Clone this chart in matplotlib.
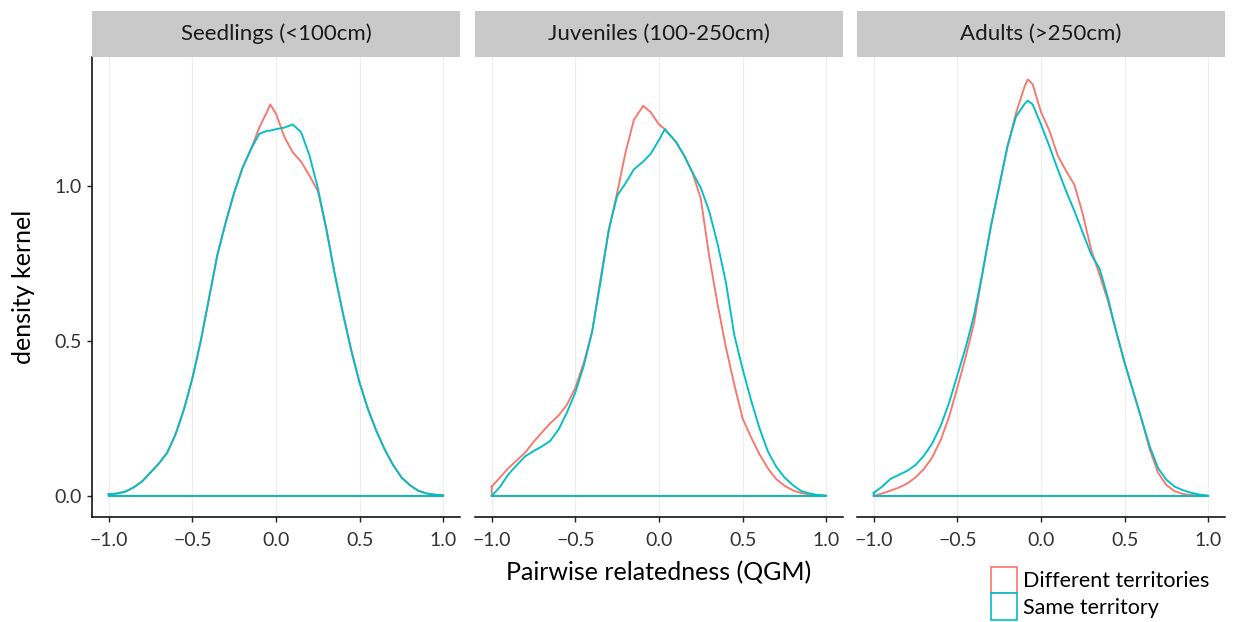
import matplotlib
matplotlib.use("Agg")
import matplotlib.pyplot as plt
from matplotlib.patches import Patch
import numpy as np

plt.rcParams["font.family"] = ["Lato", "DejaVu Sans"]

# kernel density of pairwise relatedness, one grid of x per size class
panels = ["Seedlings (<100cm)", "Juveniles (100-250cm)", "Adults (>250cm)"]
groups = ["Different territories", "Same territory"]
colors = ["#F8766D", "#00BFC4"]

x_seed = [-1.0, -0.95, -0.9, -0.85, -0.8, -0.75, -0.7, -0.65, -0.6, -0.55, -0.5, -0.45,
          -0.4, -0.35, -0.3, -0.25, -0.2, -0.15, -0.1, -0.05, -0.035, 0.0, 0.05, 0.1,
          0.15, 0.2, 0.25, 0.3, 0.35, 0.4, 0.45, 0.5, 0.55, 0.6, 0.65, 0.7, 0.75, 0.8,
          0.85, 0.9, 0.95, 1.0]
seed_diff = [0.005, 0.008, 0.014, 0.028, 0.047, 0.076, 0.105, 0.14, 0.20, 0.28, 0.38, 0.50,
             0.64, 0.78, 0.885, 0.98, 1.06, 1.12, 1.19, 1.245, 1.265, 1.235, 1.16, 1.11,
             1.08, 1.035, 0.985, 0.865, 0.72, 0.59, 0.47, 0.365, 0.28, 0.21, 0.15, 0.10,
             0.06, 0.035, 0.017, 0.008, 0.004, 0.002]
seed_same = [0.005, 0.008, 0.014, 0.028, 0.047, 0.076, 0.105, 0.14, 0.20, 0.28, 0.38, 0.50,
             0.64, 0.78, 0.885, 0.98, 1.06, 1.12, 1.17, 1.18, 1.18, 1.185, 1.19, 1.20,
             1.175, 1.10, 0.995, 0.865, 0.72, 0.59, 0.47, 0.365, 0.28, 0.21, 0.15, 0.10,
             0.06, 0.035, 0.017, 0.008, 0.004, 0.002]

x_juv = [-1.0, -0.95, -0.9, -0.85, -0.8, -0.75, -0.7, -0.65, -0.6, -0.55, -0.5, -0.45,
         -0.4, -0.35, -0.3, -0.25, -0.2, -0.15, -0.095, -0.05, 0.0, 0.035, 0.05, 0.1,
         0.15, 0.2, 0.25, 0.3, 0.35, 0.4, 0.45, 0.5, 0.55, 0.6, 0.65, 0.7, 0.75, 0.8,
         0.85, 0.9, 0.95, 1.0]
juv_diff = [0.03, 0.06, 0.09, 0.115, 0.14, 0.175, 0.205, 0.235, 0.26, 0.295, 0.35, 0.43,
            0.53, 0.70, 0.86, 0.98, 1.11, 1.215, 1.26, 1.24, 1.20, 1.185, 1.175, 1.145,
            1.10, 1.045, 0.96, 0.775, 0.62, 0.48, 0.36, 0.25, 0.19, 0.135, 0.09, 0.055,
            0.033, 0.018, 0.009, 0.005, 0.002, 0.001]
juv_same = [0.0, 0.03, 0.07, 0.10, 0.128, 0.145, 0.16, 0.178, 0.215, 0.27, 0.335, 0.42,
            0.53, 0.69, 0.86, 0.97, 1.01, 1.055, 1.08, 1.105, 1.15, 1.185, 1.175, 1.145,
            1.10, 1.045, 0.995, 0.92, 0.815, 0.69, 0.52, 0.41, 0.31, 0.22, 0.145, 0.095,
            0.06, 0.035, 0.016, 0.008, 0.003, 0.001]

x_adult = [-1.0, -0.95, -0.9, -0.85, -0.8, -0.75, -0.7, -0.65, -0.6, -0.55, -0.5, -0.45,
           -0.4, -0.35, -0.3, -0.25, -0.2, -0.15, -0.1, -0.079, -0.05, 0.0, 0.05, 0.1,
           0.15, 0.2, 0.25, 0.3, 0.35, 0.4, 0.45, 0.5, 0.55, 0.6, 0.65, 0.7, 0.75, 0.8,
           0.85, 0.9, 0.95, 1.0]
adult_diff = [0.0, 0.008, 0.017, 0.027, 0.04, 0.06, 0.087, 0.125, 0.18, 0.255, 0.35, 0.45,
              0.56, 0.72, 0.87, 1.0, 1.13, 1.235, 1.32, 1.346, 1.33, 1.24, 1.18, 1.10,
              1.05, 1.005, 0.91, 0.795, 0.715, 0.63, 0.53, 0.43, 0.34, 0.25, 0.15, 0.075,
              0.035, 0.015, 0.006, 0.003, 0.001, 0.0]
adult_same = [0.01, 0.03, 0.055, 0.068, 0.081, 0.10, 0.13, 0.17, 0.226, 0.30, 0.39, 0.48,
              0.585, 0.72, 0.87, 1.0, 1.13, 1.225, 1.265, 1.277, 1.265, 1.20, 1.13, 1.055,
              0.985, 0.92, 0.85, 0.78, 0.735, 0.64, 0.53, 0.43, 0.34, 0.25, 0.16, 0.09,
              0.052, 0.03, 0.018, 0.01, 0.004, 0.001]

xs = [x_seed, x_juv, x_adult]
ys = [[seed_diff, seed_same], [juv_diff, juv_same], [adult_diff, adult_same]]

W, H = 1235, 622
fig = plt.figure(figsize=(W / 100, H / 100), dpi=100)
lefts = [92, 475, 857]
pw, ph, pb = 368, 460, 105
ticks = [-1.0, -0.5, 0.0, 0.5, 1.0]

for i, title in enumerate(panels):
    ax = fig.add_axes([lefts[i] / W, pb / H, pw / W, ph / H])
    ax.set_xlim(-1.1, 1.1)
    ax.set_ylim(-0.068, 1.418)
    for g in range(2):
        x = np.asarray(xs[i]); y = np.asarray(ys[i][g])
        # density polygon closed along the y=0 baseline, as geom_density draws it
        px = np.r_[x, x[-1], x[0], x[0]]
        py = np.r_[y, 0, 0, y[0]]
        ax.plot(px, py, color=colors[g], lw=1.35, solid_joinstyle="round", zorder=3 + g)
    ax.set_xticks(ticks)
    ax.set_xticklabels([f"{t:.1f}".replace("-", "\u2212") for t in ticks])
    ax.grid(axis="x", color="#EEEEEE", lw=0.9, zorder=0)
    ax.set_axisbelow(True)
    for s in ["top", "right"]:
        ax.spines[s].set_visible(False)
    ax.spines["bottom"].set_linewidth(1.1)
    ax.spines["left"].set_linewidth(1.1)
    ax.tick_params(axis="both", length=3.5, width=1.0, color="#222222",
                   labelsize=14, labelcolor="#333333")
    ax.tick_params(axis="x", pad=7)
    ax.tick_params(axis="y", pad=4)
    if i == 0:
        ax.set_yticks([0.0, 0.5, 1.0])
        ax.set_yticklabels(["0.0", "0.5", "1.0"])
        ax.set_ylabel("density kernel", fontsize=18, labelpad=14)
    else:
        ax.spines["left"].set_visible(False)
        ax.set_yticks([0.0, 0.5, 1.0])
        ax.tick_params(axis="y", left=False, labelleft=False)
    if i == 1:
        ax.set_xlabel("Pairwise relatedness (QGM)", fontsize=18, labelpad=9)

    # facet strip
    st = fig.add_axes([lefts[i] / W, (pb + ph) / H, pw / W, 46 / H])
    st.set_facecolor("#C9C9C9")
    st.set_xticks([]); st.set_yticks([])
    for s in st.spines.values():
        s.set_visible(False)
    st.text(0.5, 0.5, title, ha="center", va="center", fontsize=16, color="#1A1A1A",
            transform=st.transAxes)

handles = [Patch(facecolor="white", edgecolor=c, lw=1.2) for c in colors]
fig.legend(handles, groups, loc="upper left", bbox_to_anchor=(991 / W, 1 - 567 / H),
           frameon=False, fontsize=15.5, handlelength=1.2, handleheight=1.5,
           handletextpad=0.3, labelspacing=0.0, borderpad=0, borderaxespad=0)

fig.savefig("out.png", dpi=100)
